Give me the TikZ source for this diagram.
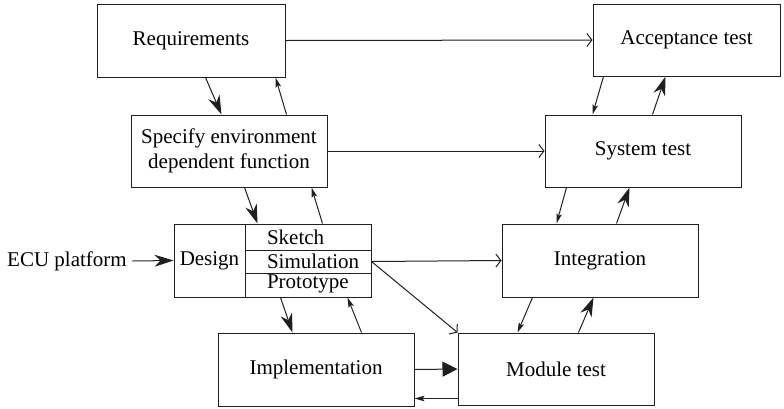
\documentclass[tikz,border=0pt]{standalone}
\usepackage{fontspec}
\setmainfont{Liberation Serif}
\newfontfamily\labelfont{Liberation Serif}
\usetikzlibrary{arrows.meta,calc}
\begin{document}
\begin{tikzpicture}[x=1pt,y=-1pt,
  line width=1pt, draw=black!88,
  every node/.style={font=\labelfont\fontsize{21}{24.5}\selectfont},
  stage/.style={draw, rectangle, minimum width=#1, minimum height=72pt,
    inner sep=0pt, align=center},
  stage/.default=196pt,
  cell/.style={draw, rectangle, minimum width=126pt, inner sep=0pt},
  celltext/.style={anchor=west, inner sep=0pt},
  bigarrow/.style={-{Stealth[length=19pt,width=12pt,inset=6pt]}},
  blockarrow/.style={-{Triangle[length=15pt,width=15pt]}},
  thinarrow/.style={-{Stealth[length=10pt,width=5.5pt,inset=2pt]}},
  openarrow/.style={-{Straight Barb[length=5pt,width=13pt]}},
  lbl/.style={inner sep=0pt}]
\useasboundingbox (0,0) rectangle (784,408);

% stage boxes of the V model
\node[stage=188pt, minimum height=73pt] (req) at (191,40.5) {Requirements};
\node[stage] (spec) at (229,151) {Specify environment\\dependent function};
\node[stage=187pt] (acc) at (686.5,40) {Acceptance test};
\node[stage] (sys) at (643,151) {System test};
\node[stage, minimum height=73pt] (integ) at (600,260.5) {Integration};
\node[stage] (mod) at (556,369) {Module test};
\node[stage, minimum height=73pt] (impl) at (316,369.5) {Implementation};

% design block with its three sub-activities
\node[stage=71pt, minimum height=73pt] (design) at (209.5,260.5) {Design};
\node[cell, minimum height=26pt] (sketch) at (308,237) {};
\node[cell, minimum height=23pt] (sim) at (308,261.5) {};
\node[cell, minimum height=24pt] (proto) at (308,285) {};
\node[celltext] (sketchtxt) at ($(sketch.west)+(22,0)$) {Sketch};
\node[celltext] (simtxt) at ($(sim.west)+(22,0)$) {Simulation};
\node[celltext] (prototxt) at ($(proto.west)+(22,-1)$) {Prototype};

\node[lbl] (ecu) at (67,261) {ECU platform};

% left branch, downwards and back
\draw[bigarrow] ($(req.south west)+(109,0)$) -- ($(spec.north west)+(91,0)$);
\draw[thinarrow] ($(spec.north west)+(156,0)$) -- ($(req.south west)+(179,0)$);
\draw[bigarrow] ($(spec.south west)+(114,0)$) -- ($(design.north west)+(84,0)$);
\draw[thinarrow] ($(design.north west)+(149,0)$) -- ($(spec.south west)+(181,0)$);
\draw[bigarrow] ($(design.south west)+(107,0)$) -- ($(impl.north west)+(75,0)$);
\draw[thinarrow] ($(impl.north west)+(144,0)$) -- ($(design.south west)+(174,0)$);

% bottom
\draw[blockarrow] (impl.east) -- (mod.west);
\draw[thinarrow] ($(mod.south west)+(0,-7)$) -- ($(impl.south east)+(0,-8)$);

% right branch, upwards and back
\draw[thinarrow] ($(integ.south west)+(31,0)$) -- ($(mod.north west)+(60,0)$);
\draw[bigarrow] ($(mod.north west)+(121,0)$) -- ($(integ.south west)+(92,0)$);
\draw[thinarrow] ($(sys.south west)+(22,0)$) -- ($(integ.north west)+(55,0)$);
\draw[bigarrow] ($(integ.north west)+(115,0)$) -- ($(sys.south west)+(85,0)$);
\draw[thinarrow] ($(acc.south west)+(11,0)$) -- ($(sys.north west)+(48,0)$);
\draw[bigarrow] ($(sys.north west)+(108,0)$) -- ($(acc.south west)+(73,0)$);

% cross links between the branches
\draw[openarrow] (req.east) -- (acc.west);
\draw[openarrow] (spec.east) -- (sys.west);
\draw[openarrow] (sim.east) -- (integ.west);
\draw[openarrow] (sim.east) -- (mod.north west);
\coordinate (ecuout) at ($(ecu.east)+(5,0)$);
\draw[bigarrow] (ecuout) -- (design.west);
\end{tikzpicture}
\end{document}
